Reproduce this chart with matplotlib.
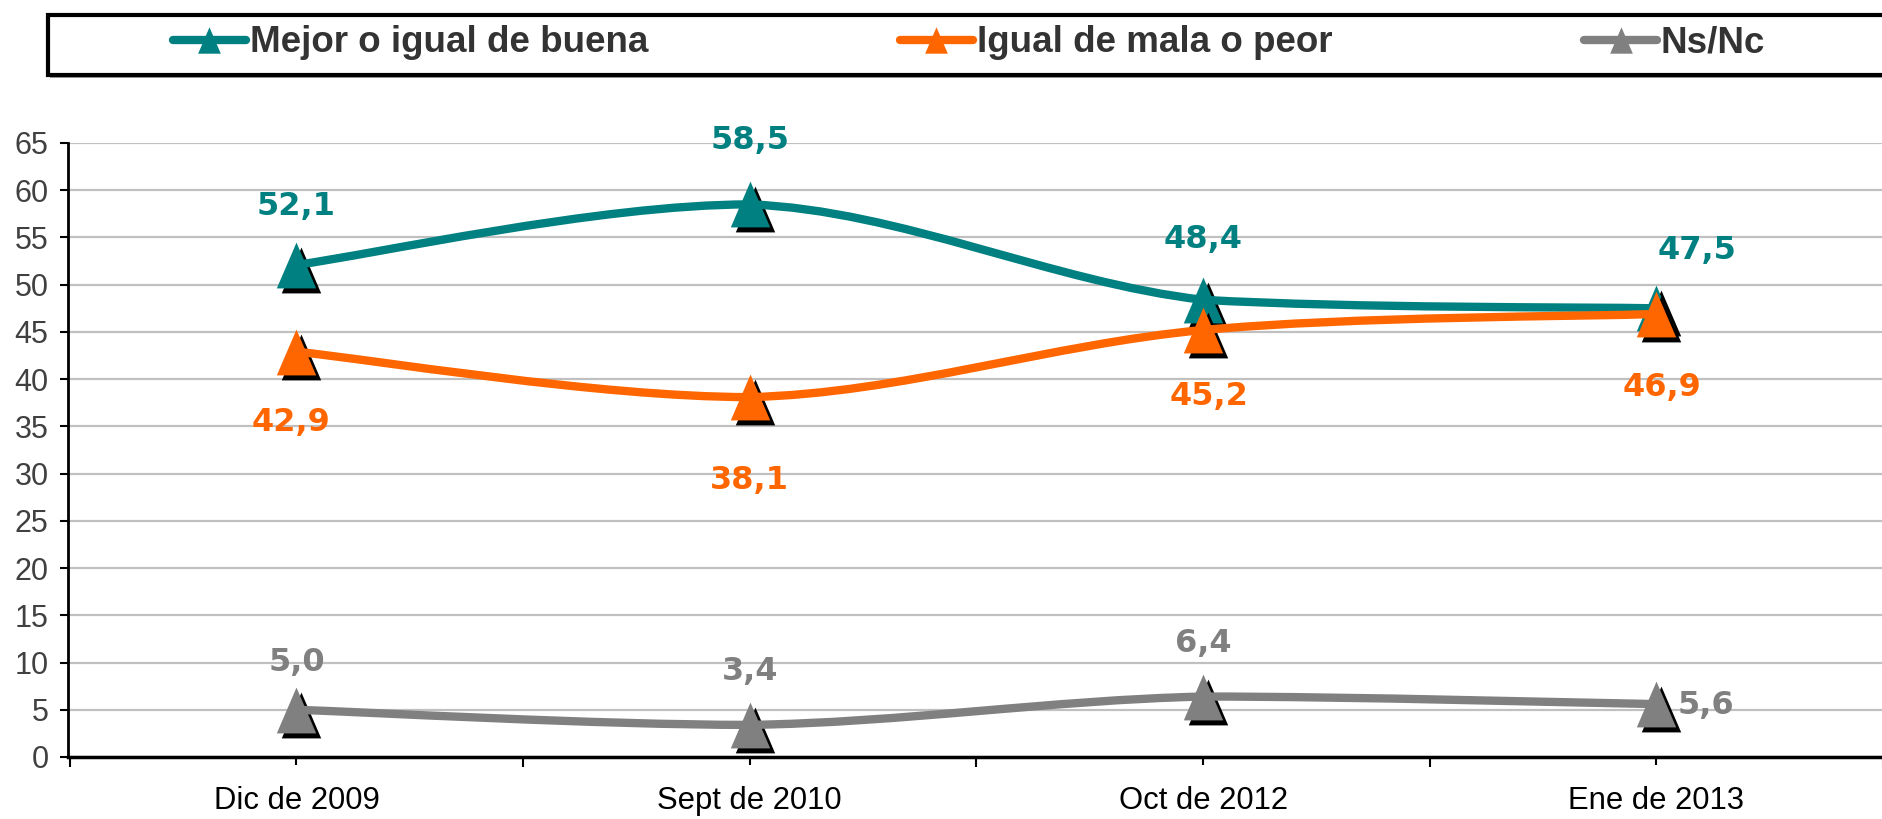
import matplotlib
matplotlib.use("Agg")
import matplotlib.pyplot as plt
import matplotlib.transforms as mtransforms
from matplotlib.path import Path
from matplotlib.patches import PathPatch, Rectangle
from matplotlib.lines import Line2D

plt.rcParams['font.family'] = ['Liberation Sans', 'DejaVu Sans']

categories = ["Dic de 2009", "Sept de 2010", "Oct de 2012", "Ene de 2013"]
mejor = [52.1, 58.5, 48.4, 47.5]
peor = [42.9, 38.1, 45.2, 46.9]
nsnc = [5.0, 3.4, 6.4, 5.6]
series_names = ["Mejor o igual de buena", "Igual de mala o peor", "Ns/Nc"]
colors = ["#008080", "#FF6600", "#808080"]

# label offsets in pixels (styling only)
label_offsets = [
    [(0, 58), (0, 64), (0, 60), (41, 58)],
    [(-6, -71), (0, -83), (6, -66), (6, -74)],
    [(0, 47), (0, 53), (0, 53), (50, -1)],
]

W, H = 1883, 819
fig = plt.figure(figsize=(W / 100, H / 100), dpi=100)
ax = fig.add_axes([68 / W, 1 - 757 / H, 1 - 68 / W, (757 - 143) / H])


def smooth_path(xs, ys):
    # Excel-like smoothed line: Catmull-Rom style bezier, no overshoot
    n = len(xs)
    verts = [(xs[0], ys[0])]
    codes = [Path.MOVETO]
    for i in range(n - 1):
        a = i - 1 if i > 0 else i
        b = i + 2 if i + 2 < n else i + 1
        c1x = xs[i] + (xs[i + 1] - xs[a]) / 6
        c1y = ys[i] + (ys[i + 1] - ys[a]) / 6
        c2x = xs[i + 1] - (xs[b] - xs[i]) / 6
        c2y = ys[i + 1] - (ys[b] - ys[i]) / 6
        lo, hi = min(ys[i], ys[i + 1]), max(ys[i], ys[i + 1])
        c1y = min(max(c1y, lo), hi)
        c2y = min(max(c2y, lo), hi)
        verts += [(c1x, c1y), (c2x, c2y), (xs[i + 1], ys[i + 1])]
        codes += [Path.CURVE4] * 3
    return Path(verts, codes)


tri = [(0, 1), (-0.86, -1), (0.86, -1), (0, 1)]
shadow_tr = mtransforms.offset_copy(ax.transData, fig=fig, x=5, y=-5, units='dots')

x = list(range(len(categories)))
for k, (vals, col) in enumerate(zip([mejor, peor, nsnc], colors)):
    z = 3 + k * 3
    ax.plot(x, vals, ls='none', marker=tri, markersize=33, color='black',
            markeredgewidth=0, transform=shadow_tr, zorder=z, clip_on=False)
    ax.add_patch(PathPatch(smooth_path(x, vals), fill=False, edgecolor=col, lw=6,
                           capstyle='round', joinstyle='round', zorder=z + 1))
    ax.plot(x, vals, ls='none', marker=tri, markersize=33, color=col,
            markeredgewidth=0, zorder=z + 2, clip_on=False)
    for i, v in enumerate(vals):
        ax.annotate(f"{v:.1f}".replace('.', ','), (i, v), xytext=label_offsets[k][i],
                    textcoords='offset pixels', ha='center', va='center',
                    fontsize=23, fontweight='bold', color=col, zorder=20,
                    family='DejaVu Sans')

ax.set_xlim(-0.504, 3.474)
ax.set_ylim(0, 65)
ax.set_yticks(range(0, 66, 5))
ax.set_xticks(x)
ax.set_xticklabels(categories)
ax.set_xticks([-0.5, 0.5, 1.5, 2.5, 3.5], minor=True)
ax.yaxis.grid(True, color='#C0C0C0', lw=1.6)
ax.set_axisbelow(True)
for s in ['top', 'right']:
    ax.spines[s].set_visible(False)
ax.spines['left'].set_linewidth(2)
ax.spines['bottom'].set_linewidth(2.5)
ax.tick_params(axis='y', labelsize=22, labelcolor='#404040', length=6, width=1.5, pad=8)
ax.tick_params(axis='x', which='major', labelsize=22.3, length=6, width=1.5, pad=15)
ax.tick_params(axis='x', which='minor', length=7, width=1.5)

# legend frame with shadow, running off the right edge
fig.patches.append(Rectangle((50 / W, 1 - 78 / H), 1.0, 60 / H, transform=fig.transFigure,
                             facecolor='#A0A0A0', edgecolor='none', zorder=0))
fig.patches.append(Rectangle((48 / W, 1 - 75 / H), 1.0, 60 / H, transform=fig.transFigure,
                             facecolor='white', edgecolor='black', lw=3, zorder=1))
handles = [Line2D([0], [0], color=c, lw=6, marker=tri, markersize=19, markeredgewidth=0,
                  solid_capstyle='round') for c in colors]
leg = fig.legend(handles, series_names, loc='center left', bbox_to_anchor=(173 / W, 1 - 43 / H),
                 ncol=3, frameon=False, fontsize=26.5, handlelength=1.98, handletextpad=0.1,
                 columnspacing=6.85, borderpad=0, borderaxespad=0)
for t in leg.get_texts():
    t.set_fontweight('bold')
    t.set_color('#333333')
leg.set_zorder(5)

fig.savefig("out.png", dpi=100)
